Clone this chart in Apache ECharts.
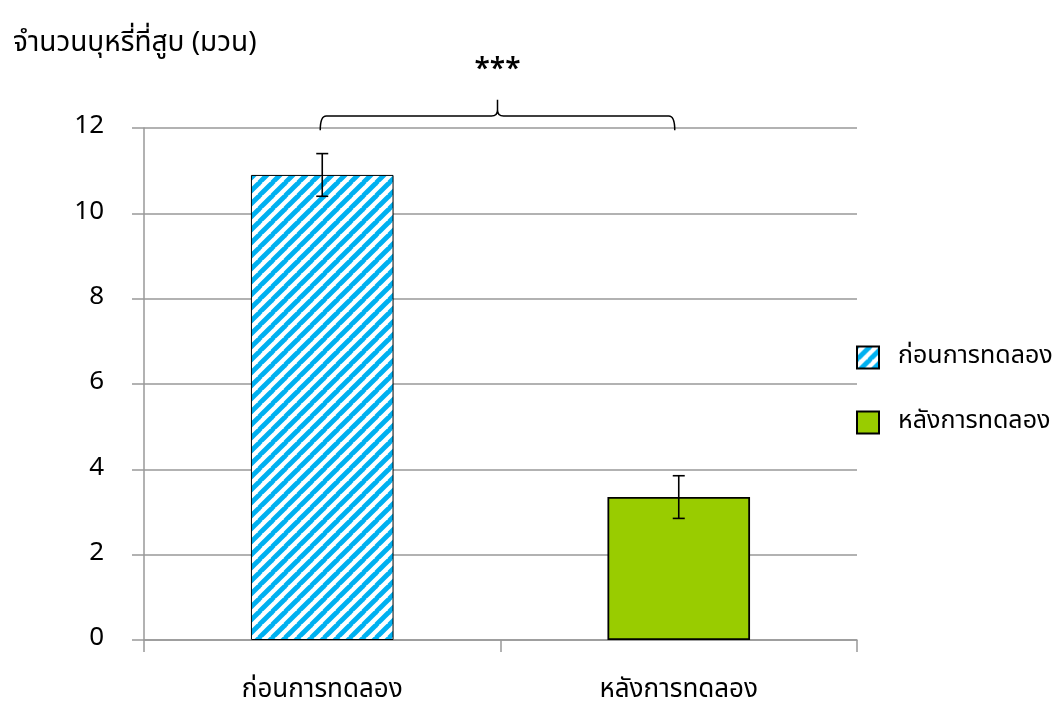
<!DOCTYPE html>
<html>
<head>
<meta charset="utf-8">
<style>
  html, body { margin: 0; padding: 0; background: #fff; }
  #chart { width: 1054px; height: 705px; }
</style>
<script src="https://cdn.jsdelivr.net/npm/echarts@6/dist/echarts.min.js"></script>
</head>
<body>
<div id="chart"></div>
<script>
// Cigarettes smoked per day, before and after the experiment (mean ± error)
const categories = ['ก่อนการทดลอง', 'หลังการทดลอง'];
const meanValues = [10.9, 3.35];
const errorValues = [0.5, 0.5];
const yTicks = { min: 0, max: 12, interval: 2 };
const titleText = 'จำนวนบุหรี่ที่สูบ (มวน)';
const significance = '***';

const FONT = '"Noto Sans Thai", "Noto Sans", "DejaVu Sans", sans-serif';

// diagonal blue/white hatch used for the "before" bar
function makeHatch() {
  const c = document.createElement('canvas');
  const s = 13;
  c.width = s; c.height = s;
  const g = c.getContext('2d');
  g.fillStyle = '#ffffff';
  g.fillRect(0, 0, s, s);
  g.strokeStyle = '#00B0F0';
  g.lineWidth = 4.8;
  for (let k = -1; k <= 1; k++) {
    g.beginPath();
    g.moveTo(k * s - 1, s + 1);
    g.lineTo(k * s + s + 1, -1);
    g.stroke();
  }
  return c;
}

const chart = echarts.init(document.getElementById('chart'), null, { renderer: 'canvas' });

const errData = categories.map((c, i) => [i, meanValues[i] - errorValues[i], meanValues[i] + errorValues[i]]);

const option = {
  animation: false,
  backgroundColor: '#ffffff',
  title: {
    text: titleText,
    left: 8, top: 26,
    textStyle: { fontFamily: FONT, fontSize: 28, fontWeight: 'normal', color: '#000' }
  },
  legend: {
    orient: 'vertical',
    left: 851, top: 340,
    itemWidth: 22, itemHeight: 22,
    itemGap: 40,
    icon: 'rect',
    data: categories,
    textStyle: { fontFamily: FONT, fontSize: 25, color: '#000', padding: [0, 0, 0, 14] }
  },
  grid: { left: 144, right: 197, top: 128, bottom: 65, containLabel: false },
  xAxis: {
    type: 'category',
    data: categories,
    axisLine: { lineStyle: { color: '#999', width: 1.5 } },
    axisTick: { show: true, length: 12, lineStyle: { color: '#999', width: 1.5 } },
    axisLabel: { fontFamily: FONT, fontSize: 26, color: '#000', margin: 39 }
  },
  yAxis: {
    type: 'value',
    min: yTicks.min, max: yTicks.max, interval: yTicks.interval,
    axisLine: { show: true, lineStyle: { color: '#999', width: 1.5 } },
    axisTick: { show: true, length: 12, lineStyle: { color: '#999', width: 1.5 } },
    splitLine: { lineStyle: { color: '#999', width: 1.5 } },
    axisLabel: { fontFamily: FONT, fontSize: 26, color: '#000', margin: 40 }
  },
  series: [
    {
      name: categories[0],
      type: 'bar',
      barWidth: '40%',
      barGap: '-100%',
      data: [meanValues[0], '-'],
      itemStyle: {
        color: { image: makeHatch(), repeat: 'repeat' },
        borderColor: '#000', borderWidth: 1
      },
      z: 2
    },
    {
      name: categories[1],
      type: 'bar',
      barWidth: '40%',
      barGap: '-100%',
      data: ['-', meanValues[1]],
      itemStyle: { color: '#99CC00', borderColor: '#000', borderWidth: 1.8 },
      z: 2
    },
    {
      // error bars
      type: 'custom',
      z: 5,
      silent: true,
      data: errData,
      renderItem: function (params, api) {
        const x = api.value(0);
        const lo = api.coord([x, api.value(1)]);
        const hi = api.coord([x, api.value(2)]);
        const cap = 6;
        const style = { stroke: '#000', lineWidth: 1.6 };
        return {
          type: 'group',
          children: [
            { type: 'line', shape: { x1: lo[0], y1: lo[1], x2: hi[0], y2: hi[1] }, style },
            { type: 'line', shape: { x1: hi[0] - cap, y1: hi[1], x2: hi[0] + cap, y2: hi[1] }, style },
            { type: 'line', shape: { x1: lo[0] - cap, y1: lo[1], x2: lo[0] + cap, y2: lo[1] }, style }
          ]
        };
      }
    },
    {
      // significance brace between the two groups
      type: 'custom',
      z: 6,
      silent: true,
      clip: false,
      data: [[0, 1, 11.95, 12.28, 12.66, 13.3]],
      renderItem: function (params, api) {
        const a = api.coord([api.value(0), api.value(2)]);
        const b = api.coord([api.value(1), api.value(2)]);
        const yb = a[1];
        const yh = api.coord([0, api.value(3)])[1];
        const yp = api.coord([0, api.value(4)])[1];
        const ys = api.coord([0, api.value(5)])[1];
        const L = a[0] - 2, R = b[0] - 4, M = (L + R) / 2;
        const r = 6;
        const path =
          'M' + L + ' ' + yb +
          ' Q' + L + ' ' + yh + ' ' + (L + r) + ' ' + yh +
          ' L' + (M - r) + ' ' + yh +
          ' Q' + M + ' ' + yh + ' ' + M + ' ' + (yh - r) +
          ' L' + M + ' ' + yp +
          ' M' + M + ' ' + (yh - r) +
          ' Q' + M + ' ' + yh + ' ' + (M + r) + ' ' + yh +
          ' L' + (R - r) + ' ' + yh +
          ' Q' + R + ' ' + yh + ' ' + R + ' ' + yb;
        return {
          type: 'group',
          children: [
            { type: 'path', shape: { pathData: path }, style: { stroke: '#000', lineWidth: 1.5, fill: null } },
            {
              type: 'text', x: M, y: ys,
              style: {
                text: significance, align: 'center', verticalAlign: 'middle',
                font: '600 28px ' + FONT, fill: '#000'
              }
            }
          ]
        };
      }
    }
  ]
};

chart.setOption(option);
</script>
</body>
</html>
